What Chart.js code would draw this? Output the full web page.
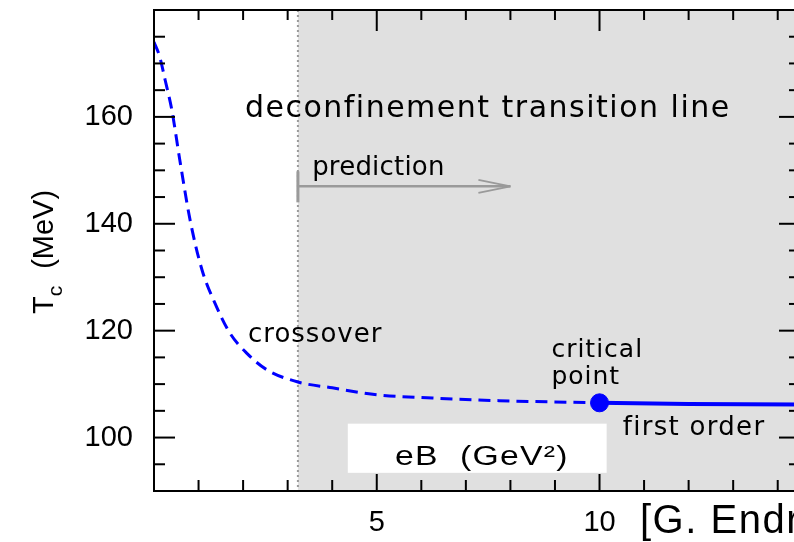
<!DOCTYPE html>
<html>
<head>
<meta charset="utf-8">
<script src="https://cdn.jsdelivr.net/npm/chart.js@4"></script>
<style>
  html, body { margin: 0; padding: 0; background: #fff; overflow: hidden; }
  canvas { display: block; }
</style>
</head>
<body>
<canvas id="graficoTc" width="804" height="542"></canvas>
<script>
// curva de crossover (tracejada) ate o ponto critico
const eBCrossover = [0, 0.13, 0.25, 0.4, 0.58, 0.81, 1.08, 1.37, 1.7, 2.08, 2.53, 3.23, 4.0, 5.0, 6.25, 7.75, 10];
const TcCrossover = [174, 171.2, 166.9, 161.3, 151.9, 140.7, 131.3, 125.1, 119.6, 115.8, 112.7, 110.4, 109.3, 108.0, 107.4, 106.9, 106.5];
// transicao de primeira ordem (linha cheia)
const eBPrimeiraOrdem = [10, 12, 14.5];
const TcPrimeiraOrdem = [106.5, 106.3, 106.2];
// ponto critico
const eBCritico = [10];
const TcCritico = [106.5];
// inicio da regiao de predicao e a seta
const eBPredicao = 3.23;
const eBFimSeta = 8;
const TcSeta = 147;
// rotulos dos eixos
const ticksX = [5, 10];
const ticksY = [100, 120, 140, 160];
const limitesX = [0, 14.5];
const limitesY = [90, 180];

const paraPontos = (xs, ys) => xs.map((v, i) => ({ x: v, y: ys[i] }));

// textos dentro do grafico, posicionados em coordenadas de dados
const textos = [
  { t: 'deconfinement transition line', x: 2.04, y: 160.0, tam: 30, esp: 1.5 },
  { t: 'prediction', x: 3.55, y: 149.1, tam: 26, esp: 0.2 },
  { t: 'crossover', x: 2.11, y: 117.9, tam: 26, esp: 1 },
  { t: 'critical', x: 8.92, y: 115.1, tam: 25, esp: 1 },
  { t: 'point', x: 8.92, y: 110.1, tam: 25, esp: 1 },
  { t: 'first order', x: 10.52, y: 100.4, tam: 26, esp: 1.3 }
];

function linha(ctx, x1, y1, x2, y2) {
  ctx.beginPath();
  ctx.moveTo(x1, y1);
  ctx.lineTo(x2, y2);
  ctx.stroke();
}

// zera o espaco extra que o Chart.js reserva para os rotulos
function semPadding(s) {
  s.paddingTop = 0;
  s.paddingBottom = 0;
  s.paddingLeft = 0;
  s.paddingRight = 0;
}

const desenhos = {
  id: 'desenhos',
  beforeDatasetsDraw(chart) {
    const { ctx, chartArea: a, scales: { x, y } } = chart;
    const xp = x.getPixelForValue(eBPredicao);
    ctx.save();
    // regiao cinza da predicao
    ctx.fillStyle = '#e0e0e0';
    ctx.fillRect(xp, a.top, a.right - xp, a.bottom - a.top);
    ctx.strokeStyle = '#999';
    ctx.lineWidth = 2;
    ctx.setLineDash([2, 3]);
    linha(ctx, xp, a.top, xp, a.bottom);
    ctx.setLineDash([]);
    // seta "prediction"
    const ys = y.getPixelForValue(TcSeta);
    const xf = x.getPixelForValue(eBFimSeta);
    ctx.strokeStyle = '#9a9a9a';
    ctx.lineWidth = 3;
    linha(ctx, xp, ys - 15, xp, ys + 16);
    ctx.lineWidth = 2.5;
    linha(ctx, xp, ys, xf, ys);
    ctx.lineWidth = 2;
    linha(ctx, xf, ys, xf - 32, ys - 6.5);
    linha(ctx, xf, ys, xf - 32, ys + 6.5);
    ctx.restore();
  },
  afterDatasetsDraw(chart) {
    const { ctx, chartArea: a, scales: { x, y } } = chart;
    ctx.save();
    ctx.fillStyle = '#000';
    ctx.textBaseline = 'alphabetic';
    ctx.textAlign = 'left';
    textos.forEach(r => {
      ctx.font = r.tam + 'px "DejaVu Sans"';
      ctx.letterSpacing = r.esp + 'px';
      ctx.fillText(r.t, x.getPixelForValue(r.x), y.getPixelForValue(r.y));
    });
    ctx.letterSpacing = '0px';

    // caixa branca com o titulo do eixo x
    const bx1 = x.getPixelForValue(4.35), bx2 = x.getPixelForValue(10.16);
    const by1 = y.getPixelForValue(102.6), by2 = y.getPixelForValue(93.4);
    ctx.fillStyle = '#fff';
    ctx.fillRect(bx1, by1, bx2 - bx1, by2 - by1);
    ctx.save();
    ctx.fillStyle = '#000';
    ctx.font = '27px "Liberation Sans"';
    ctx.letterSpacing = '1px';
    ctx.textAlign = 'center';
    ctx.translate(x.getPixelForValue(7.36), y.getPixelForValue(94.9));
    ctx.scale(1.25, 1);
    ctx.fillText('eB  (GeV²)', 0, 0);
    ctx.restore();

    // moldura e marcas para dentro nos quatro lados
    ctx.strokeStyle = '#000';
    ctx.lineWidth = 2;
    ctx.strokeRect(a.left, a.top, a.right - a.left, a.bottom - a.top);
    for (let v = limitesY[0] + 5; v < limitesY[1]; v += 5) {
      const p = y.getPixelForValue(v);
      const tam = v % 20 === 0 ? 21 : 11;
      linha(ctx, a.left, p, a.left + tam, p);
      linha(ctx, a.right, p, a.right - tam, p);
    }
    for (let v = 1; v < limitesX[1]; v += 1) {
      const p = x.getPixelForValue(v);
      const grande = v % 5 === 0;
      linha(ctx, p, a.bottom, p, a.bottom - (grande ? 17 : 11));
      linha(ctx, p, a.top, p, a.top + (grande ? 21 : 10));
    }

    // titulo do eixo y com subscrito
    ctx.fillStyle = '#000';
    ctx.translate(53, 252);
    ctx.rotate(-Math.PI / 2);
    ctx.textAlign = 'left';
    ctx.font = '29px "Liberation Sans"';
    const wT = ctx.measureText('T').width;
    const wResto = ctx.measureText('(MeV)').width;
    ctx.font = '21px "Liberation Sans"';
    const wc = ctx.measureText('c').width;
    const vao = 17;
    let px = -(wT + wc + vao + wResto) / 2;
    ctx.font = '29px "Liberation Sans"';
    ctx.fillText('T', px, 0);
    px += wT;
    ctx.font = '21px "Liberation Sans"';
    ctx.fillText('c', px, 9);
    px += wc + vao;
    ctx.font = '29px "Liberation Sans"';
    ctx.fillText('(MeV)', px, 0);
    ctx.restore();

    // referencia embaixo a direita
    ctx.save();
    ctx.font = '40px "Liberation Sans"';
    ctx.letterSpacing = '1.5px';
    ctx.fillStyle = '#000';
    ctx.textAlign = 'left';
    ctx.fillText('[G. Endrődi]', 640, 533);
    ctx.restore();
  }
};

const graficoTc = new Chart(document.getElementById('graficoTc'), {
  type: 'scatter',
  data: {
    datasets: [
      {
        data: paraPontos(eBCrossover, TcCrossover),
        showLine: true,
        borderColor: '#0000ff',
        borderWidth: 3,
        borderDash: [12, 7],
        cubicInterpolationMode: 'monotone',
        pointRadius: 0
      },
      {
        data: paraPontos(eBPrimeiraOrdem, TcPrimeiraOrdem),
        showLine: true,
        borderColor: '#0000ff',
        borderWidth: 4,
        pointRadius: 0
      },
      {
        data: paraPontos(eBCritico, TcCritico),
        backgroundColor: '#0000ff',
        borderColor: '#0000ff',
        pointRadius: 9
      }
    ]
  },
  options: {
    responsive: false,
    animation: false,
    layout: { autoPadding: false, padding: { top: 10, right: 4, left: 0, bottom: 0 } },
    plugins: { legend: { display: false }, tooltip: { enabled: false } },
    scales: {
      x: {
        type: 'linear',
        min: limitesX[0],
        max: limitesX[1],
        grid: { display: false, drawTicks: false },
        border: { display: false },
        afterBuildTicks: s => { s.ticks = ticksX.map(v => ({ value: v })); },
        afterFit: s => { s.height = 51; semPadding(s); },
        ticks: {
          autoSkip: false,
          maxRotation: 0,
          padding: 15,
          color: '#000',
          font: { family: 'Liberation Sans', size: 29 }
        }
      },
      y: {
        min: limitesY[0],
        max: limitesY[1],
        grid: { display: false, drawTicks: false },
        border: { display: false },
        afterBuildTicks: s => { s.ticks = ticksY.map(v => ({ value: v })); },
        afterFit: s => { s.width = 154; semPadding(s); },
        ticks: {
          autoSkip: false,
          padding: 21,
          color: '#000',
          font: { family: 'Liberation Sans', size: 29 }
        }
      }
    }
  },
  plugins: [desenhos]
});
</script>
</body>
</html>
